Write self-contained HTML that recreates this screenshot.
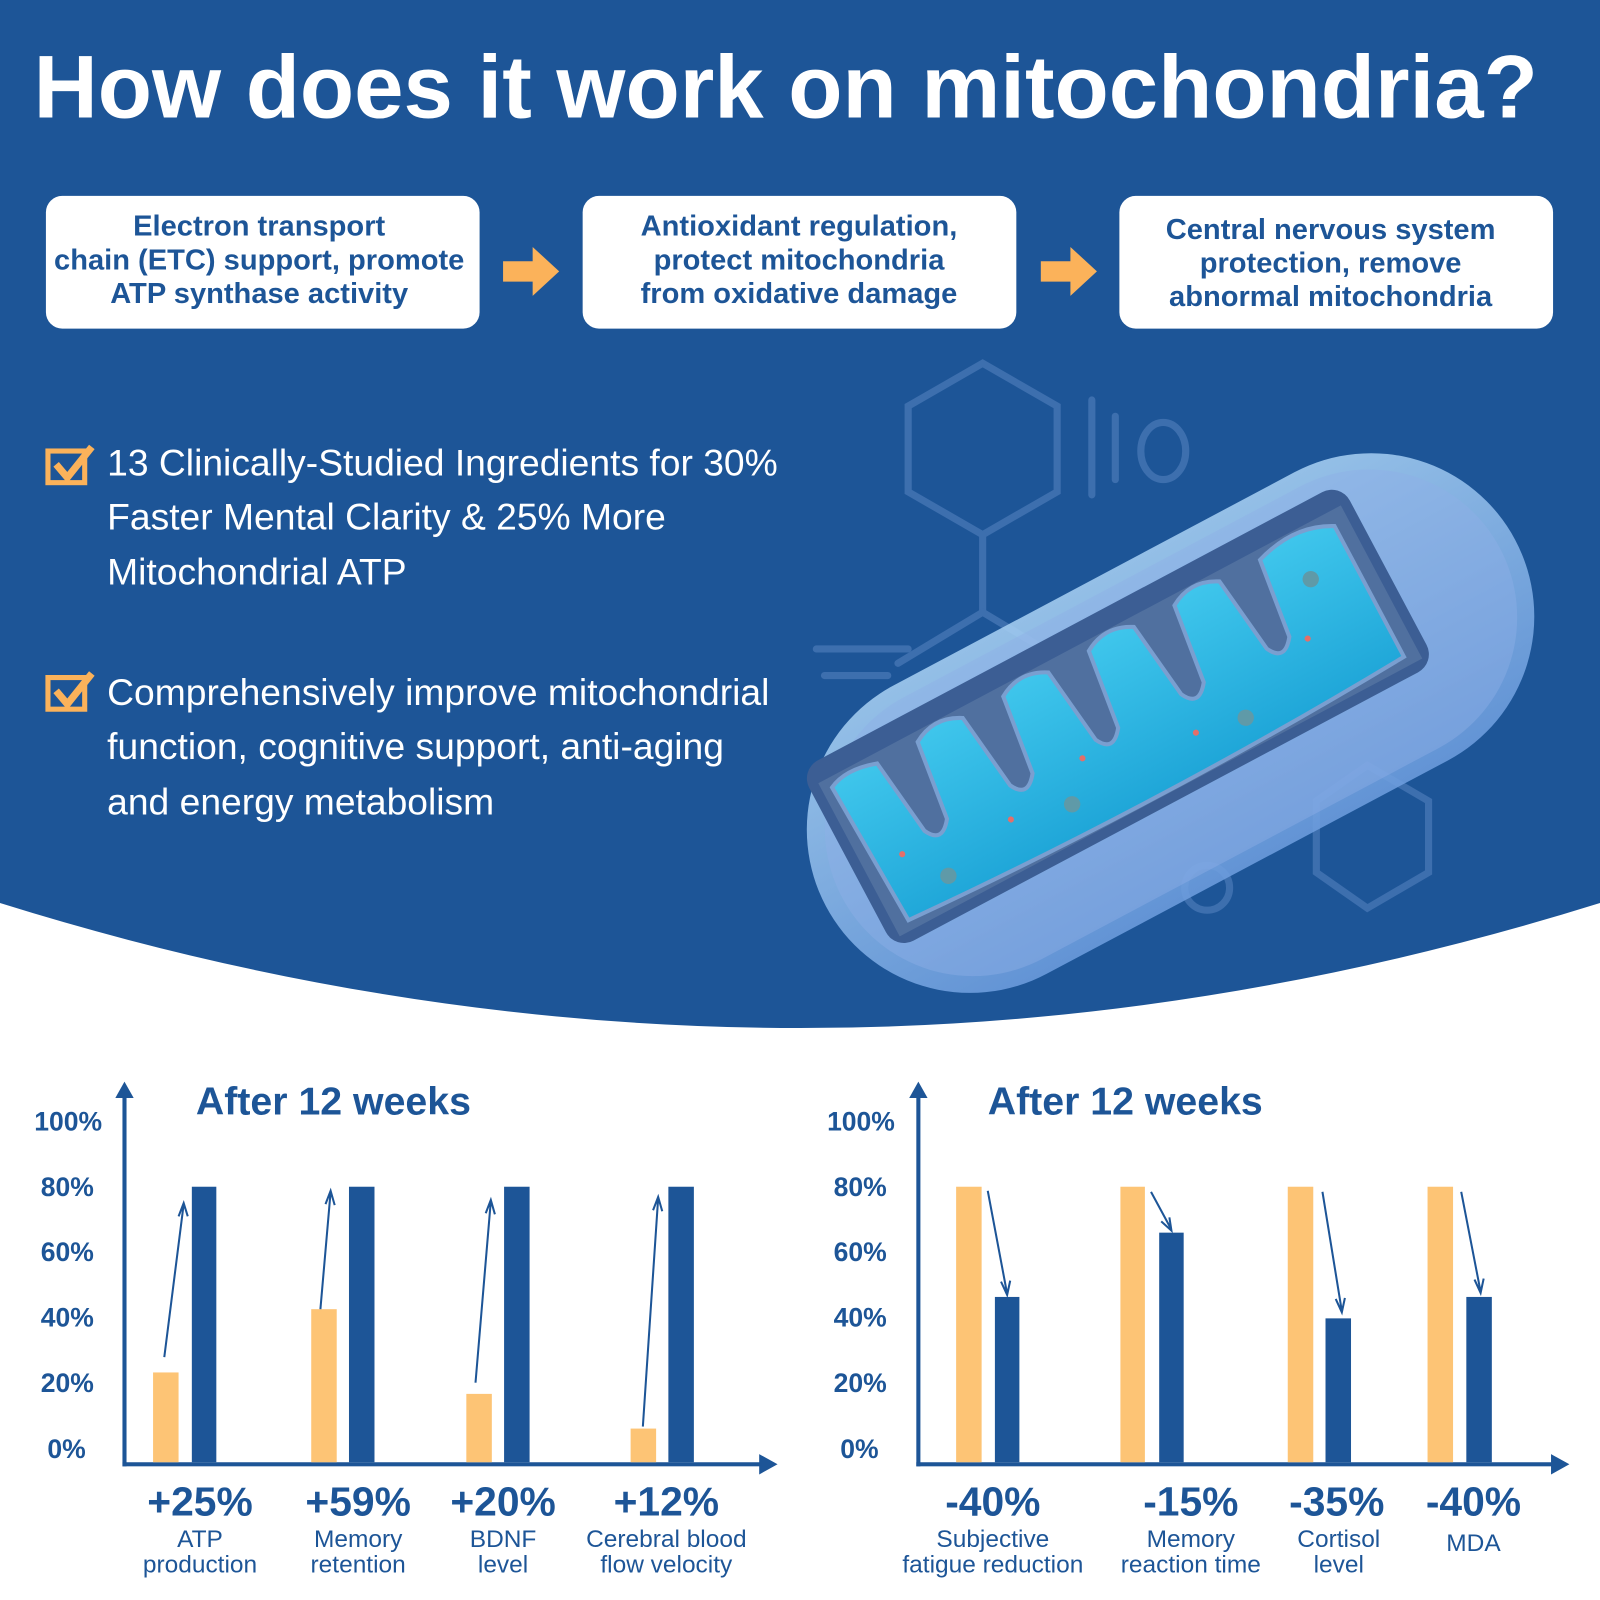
<!DOCTYPE html>
<html><head><meta charset="utf-8"><style>
html,body{margin:0;padding:0;background:#fff}
svg{display:block}
text{font-family:"Liberation Sans",sans-serif}
</style></head><body>
<svg width="1600" height="1600" viewBox="0 0 1568 1568" xmlns="http://www.w3.org/2000/svg">
<defs>
<linearGradient id="outer" x1="0" y1="0" x2="0" y2="1">
<stop offset="0" stop-color="#a9d2f5"/><stop offset="1" stop-color="#6f9fe0"/>
</linearGradient>
<linearGradient id="cyan" x1="0" y1="0" x2="0" y2="1">
<stop offset="0" stop-color="#3fc6ec"/><stop offset="1" stop-color="#1fa6d8"/>
</linearGradient>
</defs>
<rect width="1568" height="1568" fill="#fff"/>
<path d="M0 0H1568V885Q784 1130 0 885Z" fill="#1d5597"/>
<text x="33" y="115" font-size="87" font-weight="bold" fill="#fff">How does it work on mitochondria?</text>

<g font-size="28.5" font-weight="bold" fill="#1d5597" text-anchor="middle">
<rect x="45" y="192" width="425" height="130" rx="16" fill="#fff"/>
<text x="254" y="231">Electron transport</text><text x="254" y="264">chain (ETC) support, promote</text><text x="254" y="297">ATP synthase activity</text>
<rect x="571" y="192" width="425" height="130" rx="16" fill="#fff"/>
<text x="783" y="231">Antioxidant regulation,</text><text x="783" y="264">protect mitochondria</text><text x="783" y="297">from oxidative damage</text>
<rect x="1097" y="192" width="425" height="130" rx="16" fill="#fff"/>
<text x="1304" y="234">Central nervous system</text><text x="1304" y="267">protection, remove</text><text x="1304" y="300">abnormal mitochondria</text>
</g>
<g fill="#fbb25a">
<path d="M493 256H522V242L548 266L522 290V276H493Z"/>
<path d="M1020 256H1049V242L1075 266L1049 290V276H1020Z"/>
</g>

<g stroke="#3d6fae" stroke-width="7" fill="none" stroke-linecap="round">
<polygon points="963,356 1036,398 1036,482 963,524 890,482 890,398"/>
<line x1="1070" y1="392" x2="1070" y2="485"/><line x1="1093" y1="408" x2="1093" y2="470"/>
<ellipse cx="1140" cy="442" rx="22" ry="28"/>
<line x1="963" y1="524" x2="963" y2="600"/>
<polyline points="880,650 963,600 1030,640"/>
<line x1="800" y1="636" x2="890" y2="636"/><line x1="808" y1="662" x2="870" y2="662"/>
<polygon points="1340,750 1400,785 1400,855 1340,890 1290,855 1290,785"/>
<circle cx="1183" cy="870" r="22"/>
</g>

<g transform="rotate(-28 1142 700)">
<rect x="760" y="550" width="765" height="320" rx="160" fill="url(#outer)" opacity="0.85"/>
<rect x="778" y="565" width="730" height="290" rx="145" fill="#8fb0e6" opacity="0.45"/>
<rect x="800" y="580" width="600" height="200" rx="20" fill="#3c5e94"/>
<path d="M810 600 H1390 V770 H810Z" fill="#50709f"/>
<path d="M820 610 Q840 600 870 610 L880 690 Q890 710 905 690 L915 610 Q940 595 965 610 L975 690 Q985 710 1000 690 L1010 610 Q1035 595 1060 610 L1070 690 Q1080 710 1095 690 L1105 610 Q1130 595 1155 610 L1165 690 Q1175 710 1190 690 L1200 610 Q1225 595 1250 610 L1260 690 Q1270 710 1285 690 L1295 610 Q1340 595 1375 615 L1375 760 Q1100 775 825 760 Z" fill="url(#cyan)" stroke="#7a9fd0" stroke-width="4"/>
<g fill="#e36f6a"><circle cx="850" cy="700" r="3"/><circle cx="960" cy="720" r="3"/><circle cx="1050" cy="700" r="3"/><circle cx="1160" cy="730" r="3"/><circle cx="1300" cy="700" r="3"/></g>
<g fill="#5f9aa8"><circle cx="880" cy="740" r="8"/><circle cx="1020" cy="735" r="8"/><circle cx="1210" cy="740" r="8"/><circle cx="1330" cy="650" r="8"/></g>
</g>

<g fill="none" stroke="#fbb25a" stroke-width="5">
<rect x="47" y="442" width="36" height="31"/><path d="M55 455L66 468L90 438" stroke-width="7"/>
<rect x="47" y="664" width="36" height="31"/><path d="M55 677L66 690L90 660" stroke-width="7"/>
</g>
<g font-size="36.5" fill="#fff">
<text x="105" y="466">13 Clinically-Studied Ingredients for 30%</text>
<text x="105" y="519">Faster Mental Clarity &amp; 25% More</text>
<text x="105" y="573">Mitochondrial ATP</text>
<text x="105" y="691">Comprehensively improve mitochondrial</text>
<text x="105" y="744">function, cognitive support, anti-aging</text>
<text x="105" y="798">and energy metabolism</text>
</g>

<g fill="#1d5597">
<text x="192" y="1092" font-size="38.5" font-weight="bold">After 12 weeks</text>
<text x="968" y="1092" font-size="38.5" font-weight="bold">After 12 weeks</text>
<g font-size="26" font-weight="bold" text-anchor="end">
<text x="100" y="1108">100%</text><text x="92" y="1172">80%</text><text x="92" y="1236">60%</text><text x="92" y="1300">40%</text><text x="92" y="1364">20%</text><text x="84" y="1429">0%</text>
<text x="877" y="1108">100%</text><text x="869" y="1172">80%</text><text x="869" y="1236">60%</text><text x="869" y="1300">40%</text><text x="869" y="1364">20%</text><text x="861" y="1429">0%</text>
</g>
<rect x="120" y="1072" width="4" height="365"/><path d="M113 1076L122 1060L131 1076Z"/>
<rect x="120" y="1433" width="628" height="4"/><path d="M744 1425L762 1435L744 1445Z"/>
<rect x="898" y="1072" width="4" height="365"/><path d="M891 1076L900 1060L909 1076Z"/>
<rect x="898" y="1433" width="626" height="4"/><path d="M1520 1425L1538 1435L1520 1445Z"/>
<rect x="188" y="1163" width="24" height="270"/><rect x="342" y="1163" width="25" height="270"/><rect x="494" y="1163" width="25" height="270"/><rect x="655" y="1163" width="25" height="270"/>
<rect x="975" y="1271" width="24" height="162"/><rect x="1136" y="1208" width="24" height="225"/><rect x="1299" y="1292" width="25" height="141"/><rect x="1437" y="1271" width="25" height="162"/>
</g>
<g fill="#fdc475">
<rect x="150" y="1345" width="25" height="88"/><rect x="305" y="1283" width="25" height="150"/><rect x="457" y="1366" width="25" height="67"/><rect x="618" y="1400" width="25" height="33"/>
<rect x="937" y="1163" width="25" height="270"/><rect x="1098" y="1163" width="24" height="270"/><rect x="1262" y="1163" width="25" height="270"/><rect x="1399" y="1163" width="25" height="270"/>
</g>
<g stroke="#1d5597" stroke-width="2" fill="none">
<path d="M161 1330L180 1180M175 1192L180 1179L184 1192"/>
<path d="M314 1283L324 1168M319 1180L324 1167L328 1181"/>
<path d="M466 1355L481 1177M476 1189L481 1176L485 1190"/>
<path d="M630 1398L645 1174M640 1186L645 1173L649 1187"/>
<path d="M968 1167L987 1268M981 1256L987 1269L990 1255"/>
<path d="M1128 1168L1148 1205M1138 1197L1148 1206L1146 1193"/>
<path d="M1296 1168L1315 1285M1309 1273L1315 1286L1318 1272"/>
<path d="M1432 1168L1451 1266M1445 1254L1451 1267L1454 1253"/>
</g>
<g fill="#1d5597" text-anchor="middle">
<g font-size="40" font-weight="bold">
<text x="196" y="1485">+25%</text><text x="351" y="1485">+59%</text><text x="493" y="1485">+20%</text><text x="653" y="1485">+12%</text>
<text x="973" y="1485">-40%</text><text x="1167" y="1485">-15%</text><text x="1310" y="1485">-35%</text><text x="1444" y="1485">-40%</text>
</g>
<g font-size="24">
<text x="196" y="1516">ATP</text><text x="196" y="1541">production</text>
<text x="351" y="1516">Memory</text><text x="351" y="1541">retention</text>
<text x="493" y="1516">BDNF</text><text x="493" y="1541">level</text>
<text x="653" y="1516">Cerebral blood</text><text x="653" y="1541">flow velocity</text>
<text x="973" y="1516">Subjective</text><text x="973" y="1541">fatigue reduction</text>
<text x="1167" y="1516">Memory</text><text x="1167" y="1541">reaction time</text>
<text x="1312" y="1516">Cortisol</text><text x="1312" y="1541">level</text>
<text x="1444" y="1520">MDA</text>
</g>
</g>
</svg>
</body></html>
